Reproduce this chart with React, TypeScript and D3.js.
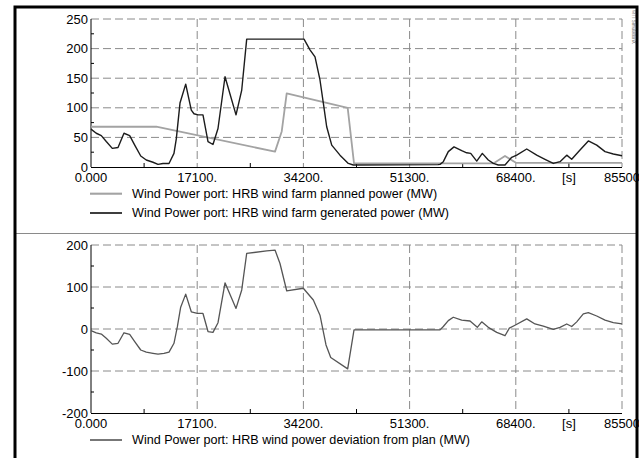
import React from 'react';
import * as d3 from 'd3';

// time [s], power [MW]
const plannedPower: [number, number][] = [
  [0, 68], [10510, 68], [29630, 26], [30710, 60], [31510, 124.5], [41330, 100],
  [42350, 6], [64780, 6], [66660, 18.6], [68430, 7], [85500, 7],
];

const generatedPower: [number, number][] = [
  [0, 64], [850, 57], [1660, 53], [2460, 43], [3430, 31.5], [4350, 33], [5310, 57],
  [6230, 53], [7040, 37], [8010, 18.6], [8900, 11.8], [9980, 8], [10790, 4.5],
  [11590, 6], [12560, 6], [13360, 23], [13740, 48], [14330, 108], [15250, 140],
  [16150, 96], [16580, 90], [17230, 88], [18030, 88], [18840, 43], [19640, 38],
  [20450, 65], [21580, 152.5], [23350, 88], [24270, 130], [25070, 216], [29630, 216],
  [34300, 216], [35260, 198], [36070, 186], [36870, 147], [37410, 108], [37950, 68],
  [38760, 37], [40090, 20], [41430, 6], [42240, 3.4], [55870, 4], [56200, 4.5],
  [56730, 9], [57530, 26], [58450, 34], [59690, 27.5], [60490, 24], [61140, 23],
  [62110, 10], [63010, 23], [63970, 11.8], [64780, 6], [65580, 3.4], [66660, 3.4],
  [67740, 16.4], [68550, 20], [70160, 30.4], [71770, 20], [73100, 13], [74440, 6],
  [75520, 9], [76600, 20], [77400, 13], [78740, 28.7], [80080, 44], [81430, 37],
  [82770, 26], [84100, 22], [85500, 19],
];

const deviation: [number, number][] = [
  [0, -4], [850, -9], [1660, -12], [2460, -22], [3430, -36], [4350, -34], [5310, -9],
  [6230, -13], [7040, -30], [8010, -50], [8900, -55], [9980, -58], [10790, -60],
  [11750, -58], [12560, -55], [13360, -34], [13900, 5], [14440, 52], [15250, 83],
  [16150, 41], [17120, 37], [18030, 37], [18840, -6], [19640, -8], [20450, 15],
  [21580, 110], [23350, 49], [24270, 93], [25070, 180], [28290, 186], [29630, 188],
  [30430, 156], [31510, 91], [34180, 97], [35800, 69], [36870, 33], [37840, -38],
  [38600, -68], [41330, -95], [42350, -2], [56200, -2], [56730, 6], [57530, 20],
  [58330, 28], [59690, 21], [61030, 19], [62200, 4], [62910, 17], [63970, 4],
  [65330, -8], [66660, -16], [67360, 2], [68270, 9], [70160, 24], [71490, 12],
  [72830, 7], [74440, -1], [75520, 4], [76600, 12], [77400, 6], [78210, 17],
  [79270, 36], [80080, 39], [81430, 31], [82770, 21], [84100, 15], [85500, 12],
];

const xTicks = [0, 17100, 34200, 51300, 68400, 85500];
const xTickLabels = ['0.000', '17100.', '34200.', '51300.', '68400.', '85500'];
const unitLabel = '[s]';
const unitPos = 76950;
const xMinor = [8550, 25650, 42750, 59850, 76950];

const topYTicks = [0, 50, 100, 150, 200, 250];
const topYMinor = [25, 75, 125, 175, 225];
const botYTicks = [-200, -100, 0, 100, 200];
const botYMinor = [-150, -50, 50, 150];

const legendTop = [
  { label: 'Wind Power port: HRB wind farm planned power (MW)', color: '#a3a3a3', w: 1.8 },
  { label: 'Wind Power port: HRB wind farm generated power (MW)', color: '#1c1c1c', w: 1.4 },
];
const legendBottom = [
  { label: 'Wind Power port: HRB wind power deviation from plan (MW)', color: '#555555', w: 1.3 },
];

const FONT = 'Liberation Sans, Arial, sans-serif';

const x = d3.scaleLinear().domain([0, 85500]).range([91, 622]);

function Panel({ y, ticks, minor, series }: any) {
  const [y0, y1] = y.range();
  const line = d3.line<[number, number]>().x(d => x(d[0])).y(d => y(d[1]));
  return (
    <g>
      {ticks.filter((t: number) => y(t) !== y0).map((t: number) => (
        <line key={'gh' + t} x1={91} x2={622} y1={y(t)} y2={y(t)} stroke="#8a8a8a" strokeDasharray="8,4" />
      ))}
      {xTicks.slice(1).map(t => (
        <line key={'gv' + t} x1={x(t)} x2={x(t)} y1={y1} y2={y0} stroke="#8a8a8a" strokeDasharray="8,4" />
      ))}
      {minor.map((t: number) => (
        <line key={'my' + t} x1={91} x2={94} y1={y(t)} y2={y(t)} stroke="#000" />
      ))}
      {xMinor.map(t => (
        <line key={'mx' + t} x1={x(t)} x2={x(t)} y1={y0} y2={y0 - 4} stroke="#000" />
      ))}
      <line x1={91} x2={91} y1={y1} y2={y0} stroke="#000" />
      <line x1={91} x2={622} y1={y0 + 0.5} y2={y0 + 0.5} stroke="#000" />
      {series.map((s: any, i: number) => (
        <path key={i} d={line(s.data) || ''} fill="none" stroke={s.color} strokeWidth={s.w} strokeLinejoin="round" />
      ))}
      {ticks.map((t: number) => (
        <text key={'yl' + t} x={88} y={y(t)} dy="0.35em" textAnchor="end" fontSize={13} fontFamily={FONT} fill="#000">{t}</text>
      ))}
      {xTicks.map((t, i) => (
        <text key={'xl' + t} x={x(t)} y={y0 + 14.5} textAnchor="middle" fontSize={13} fontFamily={FONT} fill="#000">{xTickLabels[i]}</text>
      ))}
      <text x={x(unitPos)} y={y0 + 14.5} textAnchor="middle" fontSize={13} fontFamily={FONT} fill="#000">{unitLabel}</text>
    </g>
  );
}

function Legend({ items, top }: any) {
  return (
    <g>
      {items.map((it: any, i: number) => (
        <g key={i} transform={`translate(0,${top + i * 19.3})`}>
          <line x1={90} x2={122} y1={0} y2={0} stroke={it.color} strokeWidth={it.w + 0.3} />
          <text x={132} y={4.2} fontSize={12.6} fontFamily={FONT} fill="#000">{it.label}</text>
        </g>
      ))}
    </g>
  );
}

export default function App() {
  const yTop = d3.scaleLinear().domain([0, 250]).range([167, 19]);
  const yBot = d3.scaleLinear().domain([-200, 200]).range([413, 245]);
  return (
    <svg width={639} height={458} style={{ position: 'absolute', left: 0, top: 0, background: '#fff' }}>
      <rect x={0} y={0} width={639} height={458} fill="#fff" />
      <Panel
        y={yTop}
        ticks={topYTicks}
        minor={topYMinor}
        series={[
          { data: plannedPower, color: legendTop[0].color, w: legendTop[0].w },
          { data: generatedPower, color: legendTop[1].color, w: legendTop[1].w },
        ]}
      />
      <Legend items={legendTop} top={193.7} />
      <line x1={16} x2={636} y1={233.5} y2={233.5} stroke="#8a8a8a" />
      <Panel
        y={yBot}
        ticks={botYTicks}
        minor={botYMinor}
        series={[{ data: deviation, color: legendBottom[0].color, w: legendBottom[0].w }]}
      />
      <Legend items={legendBottom} top={440} />
      <text transform="translate(631.5,10) rotate(90)" fontSize={4.5} fontFamily={FONT} fill="#666">©ITI SimulationX</text>
      <rect x={15} y={7} width={622} height={470} fill="none" stroke="#000" strokeWidth={3} />
    </svg>
  );
}
